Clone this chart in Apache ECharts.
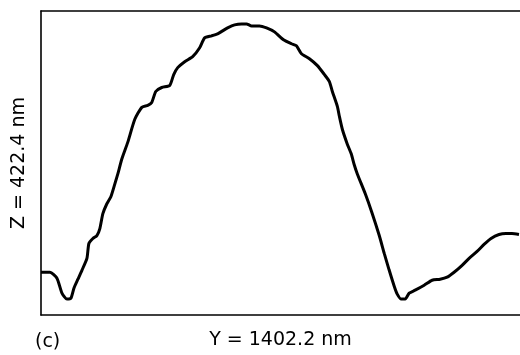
<!DOCTYPE html>
<html>
<head>
<meta charset="utf-8">
<script src="https://cdn.jsdelivr.net/npm/echarts@6/dist/echarts.min.js"></script>
<style>html,body{margin:0;padding:0;background:#fff}#c{width:520px;height:355px}</style>
</head>
<body>
<div id="c"></div>
<script>
// Profile position along Y (nm)
var yPos = [0,26.3,46.7,61.3,75.9,87.6,96.4,108.1,119.8,134.4,140.2,151.9,163.6,172.3,181.1,192.8,204.5,216.2,224.9,236.6,254.1,274.6,295.0,312.6,324.2,335.9,353.5,376.8,388.5,400.2,420.6,444.0,464.5,479.0,499.5,517.0,531.6,546.2,566.7,587.1,601.7,616.3,639.7,660.2,683.5,709.8,733.2,747.8,762.4,785.8,809.1,829.6,844.2,852.9,867.5,873.4,882.1,896.7,908.4,917.2,926.0,949.3,969.8,990.2,1004.8,1019.4,1034.0,1042.8,1054.5,1066.2,1077.8,1095.4,1121.7,1145.0,1168.4,1188.8,1209.3,1232.7,1253.1,1276.5,1296.9,1317.4,1340.8,1361.2,1378.7,1399.2];
// Height Z (nm)
var zHeight = [59.4,59.4,51.1,30.4,22.1,23.5,37.3,49.7,62.1,78.7,99.4,106.3,110.4,120.1,140.8,154.6,164.3,182.2,196.0,216.7,240.2,271.9,288.5,291.3,295.4,310.6,316.1,318.9,334.1,343.7,352.0,358.9,371.3,385.1,387.9,390.7,394.8,398.9,403.1,404.5,404.5,401.7,401.7,398.9,393.4,382.4,376.9,374.1,363.0,356.1,346.5,334.1,324.4,310.6,289.9,276.1,258.1,237.4,223.6,208.4,196.0,168.4,140.8,110.4,85.6,62.1,40.0,29.0,22.1,22.1,30.4,34.5,41.4,48.3,49.7,52.5,59.4,69.0,78.7,88.3,98.0,106.3,111.8,113.2,113.2,111.8];
var yRange = 1402.2;
var zRange = 422.4;
var xTitle = 'Y = 1402.2 nm';
var zTitle = 'Z = 422.4 nm';
var panelLabel = '(c)';

var pts = yPos.map(function(v, i){ return [v, zHeight[i]]; });
var font = 'DejaVu Sans';
var chart = echarts.init(document.getElementById('c'));
chart.setOption({
  animation: false,
  grid: {left: 41, right: 0, top: 11, bottom: 38},
  xAxis: [{
    type: 'value', min: 0, max: yRange, position: 'bottom',
    axisLine: {show: true, onZero: false, lineStyle: {color: '#000', width: 1.6}},
    axisTick: {show: false}, axisLabel: {show: false}, splitLine: {show: false},
    name: xTitle, nameLocation: 'middle', nameGap: 16,
    nameTextStyle: {color: '#000', fontSize: 19, fontFamily: font, verticalAlign: 'top'}
  }, {
    type: 'value', min: 0, max: yRange, position: 'top',
    axisLine: {show: true, onZero: false, lineStyle: {color: '#000', width: 1.6}},
    axisTick: {show: false}, axisLabel: {show: false}, splitLine: {show: false}
  }],
  yAxis: {
    type: 'value', min: 0, max: zRange,
    axisLine: {show: true, onZero: false, lineStyle: {color: '#000', width: 1.6}},
    axisTick: {show: false}, axisLabel: {show: false}, splitLine: {show: false},
    name: zTitle, nameLocation: 'middle', nameGap: 12, nameRotate: 90,
    nameTextStyle: {color: '#000', fontSize: 19, fontFamily: font}
  },
  graphic: [{
    type: 'text', left: 35, top: 333,
    style: {text: panelLabel, fill: '#000', font: '19px "DejaVu Sans"'}
  }],
  series: [{
    type: 'line', xAxisIndex: 0, data: pts, showSymbol: false, smooth: 0.2,
    lineStyle: {color: '#000', width: 3}
  }]
});
</script>
</body>
</html>
